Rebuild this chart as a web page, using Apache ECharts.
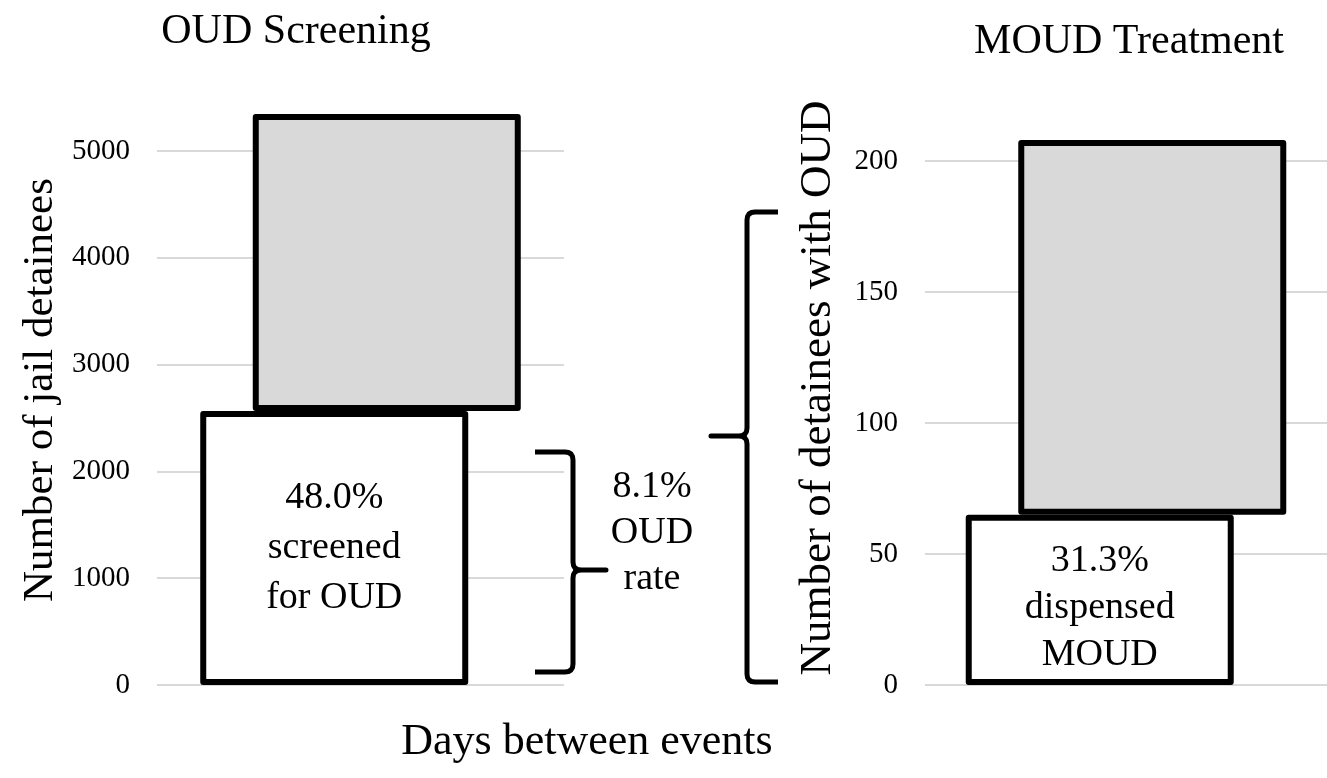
<!DOCTYPE html>
<html lang="en">
<head>
<meta charset="UTF-8">
<title>OUD Screening / MOUD Treatment</title>
<script src="https://cdn.jsdelivr.net/npm/echarts@6/dist/echarts.min.js"></script>
<style>
html,body{margin:0;padding:0;background:#fff;}
#main{width:1327px;height:778px;}
</style>
</head>
<body>
<div id="main"></div>
<script>
// data
var panels = ['OUD Screening', 'MOUD Treatment'];
var totals = [5346, 208];     // grey bars: all jail detainees / detainees with OUD
var reached = [2566, 65];     // white bars: screened for OUD / dispensed MOUD
var yMax = [5000, 200];
var yStep = [1000, 50];
var yNames = ['Number of jail detainees', 'Number of detainees with OUD'];
var barNotes = ['screened\nfor OUD', 'dispensed\nMOUD'];

var FONT = 'Liberation Serif';
var myChart = echarts.init(document.getElementById('main'));

function pct(a, b) {
    return (a / b * 100).toFixed(1) + '%';
}

var grids = [
    {left: 157, right: 763, top: 151, bottom: 93},
    {left: 925, right: 0, top: 161, bottom: 93}
];
var xAxes = [], yAxes = [], series = [];

for (var i = 0; i < 2; i++) {
    xAxes.push({type: 'category', gridIndex: i, data: [panels[i]], show: false});
    yAxes.push({
        type: 'value', gridIndex: i, min: 0, max: yMax[i], interval: yStep[i],
        axisLine: {show: false}, axisTick: {show: false},
        axisLabel: {
            fontFamily: FONT, fontSize: 29, color: '#000', margin: 27,
            formatter: function (v) { return String(v); }
        },
        splitLine: {lineStyle: {color: '#d9d9d9', width: 2}}
    });
    (function (i) {
        // white bar (left, offset)
        series.push({
            type: 'bar', xAxisIndex: i, yAxisIndex: i, stack: 'w' + i,
            barWidth: 268, barGap: '-80.4%', clip: false, silent: true, z: 3,
            data: [reached[i]],
            itemStyle: {color: '#fff', borderColor: '#000', borderWidth: 6, borderJoin: 'round'},
            label: {
                show: true, position: 'inside', offset: [0, i === 0 ? 0 : 8],
                fontFamily: FONT, fontSize: 38, lineHeight: i === 0 ? 50 : 47, color: '#000',
                formatter: function () {
                    return pct(reached[i], totals[i]) + '\n' + barNotes[i];
                }
            }
        });
        // invisible base so the grey bar floats on top of the white one
        series.push({
            type: 'bar', xAxisIndex: i, yAxisIndex: i, stack: 'g' + i,
            barWidth: 268, barGap: '-80.4%', clip: false, silent: true,
            data: [reached[i]],
            itemStyle: {color: 'transparent', borderWidth: 0}
        });
        series.push({
            type: 'bar', xAxisIndex: i, yAxisIndex: i, stack: 'g' + i,
            barWidth: 268, barGap: '-80.4%', clip: false, silent: true, z: 2,
            data: [totals[i] - reached[i]],
            itemStyle: {color: '#d9d9d9', borderColor: '#000', borderWidth: 6, borderJoin: 'round'}
        });
    })(i);
}

function txt(text, x, y, size, rot, lh) {
    return {
        type: 'text', x: x, y: y, rotation: rot || 0, silent: true,
        style: {
            text: text, x: 0, y: 0, fill: '#000',
            fontFamily: FONT, fontSize: size, lineHeight: lh || size * 1.2,
            textAlign: 'center', textVerticalAlign: 'middle'
        }
    };
}

// curly brace as a polyline: x0 = free ends, xm = spine, xt = tip, y0/ym/y1 = top/tip/bottom
function brace(x0, xm, xt, y0, ym, y1) {
    var r = 8, pts = [];
    var d = xt > xm ? 1 : -1;   // direction the tip points
    function corner(ax, ay, cx, cy, bx, by) {
        for (var t = 0; t <= 1.0001; t += 0.25) {
            var u = 1 - t;
            pts.push([u * u * ax + 2 * u * t * cx + t * t * bx, u * u * ay + 2 * u * t * cy + t * t * by]);
        }
    }
    pts.push([x0, y0]);
    corner(xm - d * r, y0, xm, y0, xm, y0 + r);
    corner(xm, ym - r, xm, ym, xm + d * r, ym);
    pts.push([xt, ym]);
    pts.push([xm + d * r, ym]);
    corner(xm + d * r, ym, xm, ym, xm, ym + r);
    corner(xm, y1 - r, xm, y1, xm - d * r, y1);
    pts.push([x0, y1]);
    return {
        type: 'polyline', silent: true,
        shape: {points: pts},
        style: {stroke: '#000', lineWidth: 5, fill: null, lineJoin: 'round'}
    };
}

option = {
    animation: false,
    grid: grids,
    xAxis: xAxes,
    yAxis: yAxes,
    series: series,
    graphic: [
        txt(panels[0], 296, 32, 42),
        txt(panels[1], 1129, 42, 42),
        txt(yNames[0], 41, 390, 43, Math.PI / 2),
        txt(yNames[1], 818, 388, 45, Math.PI / 2),
        txt('Days between events', 587, 742, 44),
        txt(pct(totals[1], reached[0]) + '\nOUD\nrate', 652, 533, 38, 0, 46),
        brace(535, 573, 606, 452, 570, 672),
        brace(778, 747, 711, 212, 436, 682)
    ]
};

if (option && typeof option === "object") {
    myChart.setOption(option);
}
</script>
</body>
</html>
